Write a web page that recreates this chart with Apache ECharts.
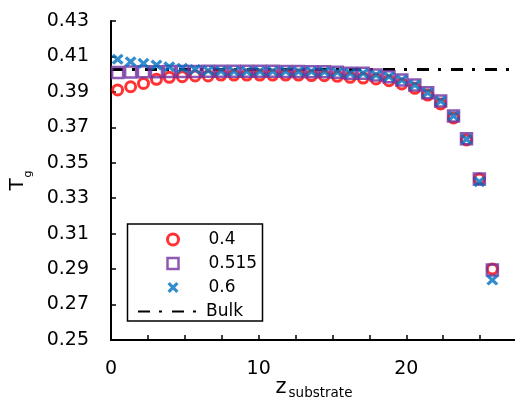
<!DOCTYPE html>
<html>
<head>
<meta charset="utf-8">
<script src="https://cdn.jsdelivr.net/npm/echarts@6/dist/echarts.min.js"></script>
<style>
  html, body { margin: 0; padding: 0; background: #fff; }
  #chart { width: 515px; height: 401px; }
</style>
</head>
<body>
<div id="chart"></div>
<script>
// Layer positions from the substrate
const zPos = [0.45, 1.33, 2.2, 3.08, 3.95, 4.83, 5.7, 6.58, 7.45, 8.33,
  9.2, 10.08, 10.95, 11.83, 12.7, 13.58, 14.45, 15.33, 16.2, 17.08,
  17.95, 18.83, 19.7, 20.58, 21.45, 22.33, 23.2, 24.08, 24.95, 25.83];

// Local glass transition temperature for each film
const tg04 = [0.3911, 0.3929, 0.3948, 0.3971, 0.3982, 0.3986, 0.3990, 0.3990, 0.3995, 0.3995,
  0.3995, 0.3995, 0.3995, 0.3995, 0.3995, 0.3992, 0.3991, 0.3988, 0.3982, 0.3978,
  0.3973, 0.3963, 0.3945, 0.3920, 0.3882, 0.3832, 0.3753, 0.3629, 0.3408, 0.2901];
const tg0515 = [0.4010, 0.4012, 0.4014, 0.4014, 0.4015, 0.4015, 0.4015, 0.4016, 0.4016, 0.4016,
  0.4016, 0.4016, 0.4016, 0.4015, 0.4015, 0.4014, 0.4014, 0.4011, 0.4005, 0.4005,
  0.3995, 0.3986, 0.3967, 0.3939, 0.3895, 0.3849, 0.3764, 0.3635, 0.3408, 0.2895];
const tg06 = [0.4084, 0.4070, 0.4061, 0.4052, 0.4042, 0.4033, 0.4027, 0.4020, 0.4018, 0.4016,
  0.4016, 0.4016, 0.4016, 0.4016, 0.4015, 0.4015, 0.4014, 0.4011, 0.4005, 0.4005,
  0.3995, 0.3986, 0.3967, 0.3939, 0.3895, 0.3849, 0.3764, 0.3633, 0.3393, 0.2838];

// Bulk reference value
const bulkZ = [0, 27];
const bulkTg = [0.4026, 0.4026];

// Axis ticks and labels
const yTicks = [0.25, 0.27, 0.29, 0.31, 0.33, 0.35, 0.37, 0.39, 0.41, 0.43];
const xTicks = [0, 2.5, 5, 7.5, 10, 12.5, 15, 17.5, 20, 22.5, 25, 27.5];
const xLabels = [0, 10, 20];

const pairs = (xs, ys) => xs.map((x, i) => [x, ys[i]]);

const FONT = 'DejaVu Sans';
const xMark = 'path://M0,2 L2,0 L5,3 L8,0 L10,2 L7,5 L10,8 L8,10 L5,7 L2,10 L0,8 L3,5 Z';
const squareMark = 'path://M0,0 L10,0 L10,10 L0,10 Z';

const chart = echarts.init(document.getElementById('chart'), null, { renderer: 'canvas' });

chart.setOption({
  animation: false,
  backgroundColor: '#fff',
  grid: { left: 111, right: -2, top: 21, bottom: 61, containLabel: false, outerBoundsMode: 'none' },
  xAxis: {
    type: 'value',
    min: 0,
    max: 27.5,
    name: '{z|z}{s|substrate}',
    nameLocation: 'middle',
    nameGap: 36,
    nameMoveOverlap: false,
    nameTextStyle: {
      rich: {
        z: { fontFamily: FONT, fontSize: 21, color: '#000', lineHeight: 24 },
        s: { fontFamily: FONT, fontSize: 13.5, color: '#000', lineHeight: 24, padding: [10, 0, 0, 2] }
      }
    },
    axisLine: { lineStyle: { color: '#000', width: 2 } },
    axisTick: { show: true, inside: true, length: 5, customValues: xTicks, lineStyle: { color: '#000', width: 1.5 } },
    axisLabel: { customValues: xLabels, fontFamily: FONT, fontSize: 19, color: '#000', margin: 20 },
    splitLine: { show: false }
  },
  yAxis: {
    type: 'value',
    min: 0.25,
    max: 0.43,
    name: '{t|T}{s|g}',
    nameLocation: 'middle',
    nameRotate: 90,
    nameGap: 82,
    nameMoveOverlap: false,
    nameTextStyle: {
      padding: [0, 0, 0, 0],
      rich: {
        t: { fontFamily: FONT, fontSize: 20, color: '#000', lineHeight: 22 },
        s: { fontFamily: FONT, fontSize: 11, color: '#000', lineHeight: 22, padding: [20, 0, 0, 1] }
      }
    },
    axisLine: { show: true, lineStyle: { color: '#000', width: 2 } },
    axisTick: { show: true, inside: true, length: 5, customValues: yTicks, lineStyle: { color: '#000', width: 1.5 } },
    axisLabel: {
      customValues: yTicks,
      fontFamily: FONT, fontSize: 19, color: '#000', margin: 22,
      formatter: v => v.toFixed(2)
    },
    splitLine: { show: false }
  },
  legend: [
    {
      data: [
        { name: '0.4', itemStyle: { borderWidth: 3 } },
        { name: '0.515', itemStyle: { borderWidth: 2.5 } },
        { name: '0.6', itemStyle: { borderWidth: 0 } }
      ],
      orient: 'vertical',
      left: 166,
      top: 231,
      padding: 0,
      itemWidth: 11,
      itemHeight: 11,
      itemGap: 7,
      textStyle: { fontFamily: FONT, fontSize: 17, color: '#000', padding: [0, 0, 0, 25] }
    },
    {
      data: [{ name: 'Bulk', itemStyle: { opacity: 0 } }],
      orient: 'vertical',
      left: 137,
      top: 303,
      padding: 0,
      itemWidth: 63,
      itemHeight: 11,
      textStyle: { fontFamily: FONT, fontSize: 17, color: '#000' }
    }
  ],
  graphic: [
    {
      type: 'rect',
      shape: { x: 127.5, y: 224, width: 135, height: 97 },
      style: { fill: 'none', stroke: '#000', lineWidth: 1.5 },
      z: 0
    }
  ],
  series: [
    {
      name: 'Bulk',
      type: 'line',
      data: pairs(bulkZ, bulkTg),
      symbol: 'none',
      lineStyle: { color: '#000', width: 3, type: [12, 9, 3, 10] },
      itemStyle: { color: '#000' },
      z: 2
    },
    {
      name: '0.4',
      type: 'scatter',
      data: pairs(zPos, tg04),
      symbol: 'circle',
      symbolSize: 10,
      itemStyle: { color: 'transparent', borderColor: '#FF0000', borderWidth: 3 },
      z: 3
    },
    {
      name: '0.515',
      type: 'scatter',
      data: pairs(zPos, tg0515),
      symbol: squareMark,
      symbolKeepAspect: true,
      symbolSize: 11,
      itemStyle: { color: 'transparent', borderColor: '#7030A0', borderWidth: 2.5 },
      z: 4
    },
    {
      name: '0.6',
      type: 'scatter',
      data: pairs(zPos, tg06),
      symbol: xMark,
      symbolKeepAspect: true,
      symbolSize: [12, 11],
      itemStyle: { color: '#0070C0', borderWidth: 0 },
      z: 5
    }
  ]
});
</script>
</body>
</html>
